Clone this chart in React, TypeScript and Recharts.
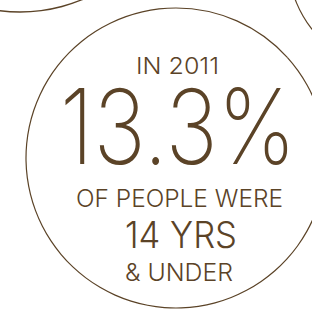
import { PieChart, Pie, Cell } from 'recharts';

// share of population aged 14 and under, 2011
const shareNames = ['14 yrs & under', 'older'];
const shareValues = [13.3, 86.7];
const ringValues = [100];
const headline = ['IN 2011', 'OF PEOPLE WERE', '14 YRS', '& UNDER'];

const BROWN = '#5b4327';

const shareData = shareNames.map((name, i) => ({ name, value: shareValues[i] }));
const ringData = ringValues.map((value, i) => ({ name: `ring${i}`, value }));

export default function App() {
  const pct = `${shareValues[0]}%`;
  return (
    <div style={{ width: 312, height: 309, background: '#fff', position: 'relative' }}>
      <style>{'body{margin:0}'}</style>
      <PieChart width={312} height={309} margin={{ top: 0, right: 0, bottom: 0, left: 0 }}>
        <Pie
          data={ringData}
          dataKey="value"
          cx={20}
          cy={-150}
          innerRadius={161.3}
          outerRadius={162.7}
          stroke="none"
          fill={BROWN}
          isAnimationActive={false}
        />
        <Pie
          data={ringData}
          dataKey="value"
          cx={400}
          cy={-40}
          innerRadius={111.4}
          outerRadius={112.6}
          stroke="none"
          fill={BROWN}
          isAnimationActive={false}
        />
        <Pie
          data={shareData}
          dataKey="value"
          cx={176}
          cy={158}
          innerRadius={149.4}
          outerRadius={150.6}
          startAngle={90}
          endAngle={-270}
          stroke="none"
          isAnimationActive={false}
        >
          {shareData.map((d) => (
            <Cell key={d.name} fill={BROWN} />
          ))}
        </Pie>
      </PieChart>
      <svg width={312} height={309} style={{ position: 'absolute', left: 0, top: 0 }}>
        <g fill={BROWN} fontFamily="Inter" textAnchor="middle">
          <text x={177.5} y={74} fontSize={23} fontWeight={300} textLength={83} lengthAdjust="spacingAndGlyphs">
            {headline[0]}
          </text>
          <text x={178} y={164} fontSize={104} fontWeight={200} textLength={236} lengthAdjust="spacingAndGlyphs">
            {pct}
          </text>
          <text x={179.5} y={207} fontSize={24} fontWeight={300} textLength={207} lengthAdjust="spacingAndGlyphs">
            {headline[1]}
          </text>
          <text x={181} y={248} fontSize={37} fontWeight={350} textLength={112} lengthAdjust="spacingAndGlyphs">
            {headline[2]}
          </text>
          <text x={179} y={281} fontSize={24} fontWeight={300} textLength={108} lengthAdjust="spacingAndGlyphs">
            {headline[3]}
          </text>
        </g>
      </svg>
    </div>
  );
}
